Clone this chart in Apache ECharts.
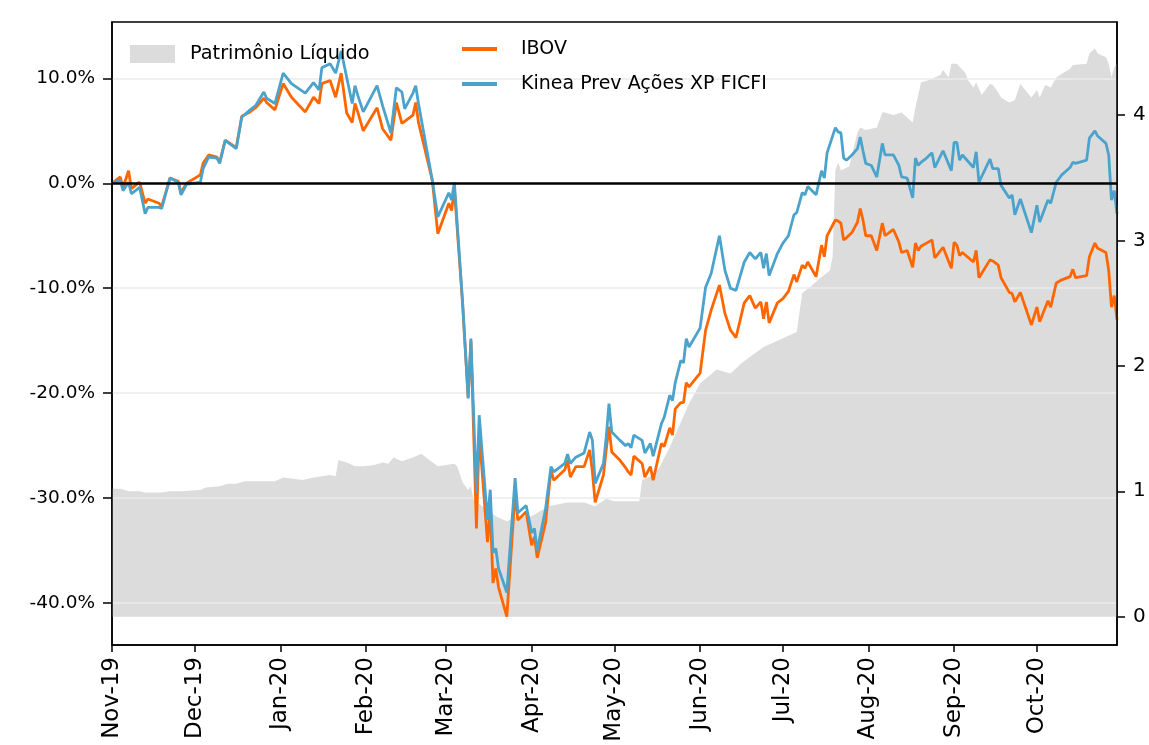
<!DOCTYPE html>
<html>
<head>
<meta charset="utf-8">
<script src="https://cdn.jsdelivr.net/npm/echarts@6/dist/echarts.min.js"></script>
<style>
html,body{margin:0;padding:0;background:#fff;}
#chart{width:1149px;height:745px;}
</style>
</head>
<body>
<div id="chart"></div>
<script>
// ---- data ----
const dates = ['2019-11-01','2019-11-04','2019-11-05','2019-11-07','2019-11-08','2019-11-11','2019-11-13','2019-11-14','2019-11-18','2019-11-19','2019-11-22','2019-11-25','2019-11-26','2019-11-28',
'2019-12-03','2019-12-04','2019-12-06','2019-12-09','2019-12-10','2019-12-12','2019-12-16','2019-12-18','2019-12-21','2019-12-23','2019-12-26','2019-12-27','2019-12-30',
'2020-01-02','2020-01-05','2020-01-10','2020-01-13','2020-01-15','2020-01-16','2020-01-19','2020-01-21','2020-01-23','2020-01-25','2020-01-27','2020-01-28','2020-01-29','2020-01-31',
'2020-02-05','2020-02-07','2020-02-10','2020-02-12','2020-02-14','2020-02-15','2020-02-18','2020-02-19','2020-02-20','2020-02-25','2020-02-27',
'2020-03-02','2020-03-03','2020-03-04','2020-03-07','2020-03-09','2020-03-10','2020-03-12','2020-03-13','2020-03-16','2020-03-17','2020-03-18','2020-03-19','2020-03-20','2020-03-23','2020-03-26','2020-03-27','2020-03-30',
'2020-04-01','2020-04-02','2020-04-03','2020-04-06','2020-04-08','2020-04-09','2020-04-13','2020-04-14','2020-04-15','2020-04-17','2020-04-20','2020-04-22','2020-04-23','2020-04-24','2020-04-27','2020-04-28','2020-04-29','2020-04-30',
'2020-05-03','2020-05-05','2020-05-06','2020-05-07','2020-05-08','2020-05-11','2020-05-12','2020-05-14','2020-05-15','2020-05-18','2020-05-19','2020-05-21','2020-05-22','2020-05-23','2020-05-25','2020-05-26','2020-05-27','2020-05-28',
'2020-06-01','2020-06-03','2020-06-05','2020-06-08','2020-06-10','2020-06-12','2020-06-14','2020-06-17','2020-06-19','2020-06-21','2020-06-23','2020-06-24','2020-06-25','2020-06-26','2020-06-29',
'2020-07-01','2020-07-03','2020-07-05','2020-07-06','2020-07-08','2020-07-09','2020-07-10','2020-07-13','2020-07-15','2020-07-16','2020-07-17','2020-07-20','2020-07-21','2020-07-22','2020-07-23','2020-07-24','2020-07-26','2020-07-28','2020-07-29','2020-07-30','2020-07-31',
'2020-08-02','2020-08-04','2020-08-06','2020-08-07','2020-08-10','2020-08-12','2020-08-13','2020-08-15','2020-08-17','2020-08-18','2020-08-19','2020-08-20','2020-08-22','2020-08-24','2020-08-25','2020-08-28','2020-08-31',
'2020-09-01','2020-09-02','2020-09-03','2020-09-04','2020-09-08','2020-09-09','2020-09-10','2020-09-14','2020-09-15','2020-09-17','2020-09-18','2020-09-21','2020-09-22','2020-09-23','2020-09-25','2020-09-29',
'2020-10-01','2020-10-02','2020-10-05','2020-10-06','2020-10-08','2020-10-10','2020-10-13','2020-10-14','2020-10-15','2020-10-19','2020-10-20','2020-10-22','2020-10-23','2020-10-26','2020-10-27','2020-10-28','2020-10-29','2020-10-30'];

const kinea = [0,0.3,-0.7,0.1,-1.0,-0.4,-2.9,-2.3,-2.3,-2.4,0.5,0.1,-1.1,-0.1,
0.1,1.4,2.5,2.4,1.9,4.1,3.3,6.3,7.0,7.4,8.7,8.1,7.6,
10.5,9.5,8.6,9.6,8.9,11.0,11.4,10.5,12.6,10.1,7.6,9.3,8.4,6.8,
9.3,7.4,4.8,9.1,8.7,7.1,8.6,9.3,7.6,0.3,-3.2,
-0.9,-1.6,0.1,-11.4,-20.5,-14.8,-29.5,-22.1,-32.1,-29.2,-35.2,-34.8,-36.7,-39.0,-28.1,-31.4,-30.7,
-33.3,-32.9,-35.0,-31.1,-27.0,-27.5,-26.7,-25.8,-26.7,-26.1,-25.7,-23.7,-24.5,-28.6,-26.7,-24.2,-21.0,-23.7,
-24.5,-25.0,-24.8,-25.2,-24.0,-24.5,-25.7,-24.8,-26.0,-22.9,-22.3,-20.2,-20.7,-19.0,-16.9,-17.1,-14.8,-15.6,
-13.8,-9.9,-8.6,-5.0,-8.3,-10.0,-10.2,-7.5,-6.6,-7.2,-6.6,-8.1,-6.7,-8.8,-6.7,
-5.7,-5.0,-3.0,-2.8,-0.9,-1.1,-0.3,-1.1,1.2,0.5,2.9,5.3,4.9,4.8,2.4,2.2,2.7,3.3,4.4,3.1,1.9,
1.7,0.6,3.8,2.7,2.7,1.7,0.6,0.5,-1.4,2.4,1.7,2.0,2.4,2.9,1.5,3.1,1.2,
3.9,3.9,2.2,2.7,1.5,3.0,0.1,2.3,1.4,1.4,-0.2,-1.4,-1.1,-3.0,-1.5,-4.7,
-2.1,-3.7,-1.6,-1.9,0.1,0.8,1.5,2.0,1.9,2.2,4.3,5.0,4.5,3.8,2.7,-1.6,-0.7,-2.9];

const ibov = [0,0.6,-0.4,1.2,-0.5,0.1,-1.9,-1.5,-1.9,-2.2,0.5,0.2,-0.9,0.0,
0.8,1.9,2.7,2.5,2.0,4.1,3.4,6.4,6.8,7.2,8.1,7.7,7.0,
9.5,8.2,6.8,8.2,7.6,9.5,9.8,8.2,10.5,6.7,5.8,7.6,6.8,5.0,
7.2,5.2,4.1,7.7,5.7,5.9,6.5,7.7,5.8,0.3,-4.8,
-1.9,-2.6,-0.5,-11.6,-20.4,-15.0,-32.9,-23.8,-34.2,-31.1,-38.1,-36.7,-38.5,-41.3,-29.5,-32.1,-31.3,
-34.5,-33.7,-35.7,-32.4,-27.3,-28.3,-27.3,-26.4,-28.0,-27.0,-27.0,-25.4,-27.5,-30.4,-27.8,-25.4,-23.2,-25.6,
-26.4,-27.1,-27.5,-27.8,-26.0,-26.7,-28.0,-27.0,-28.3,-24.8,-25.1,-23.3,-24.0,-21.5,-20.9,-20.9,-19.0,-19.4,
-18.1,-14.0,-12.1,-9.7,-12.4,-14.0,-14.7,-11.4,-10.7,-11.9,-11.3,-12.9,-11.3,-13.3,-11.4,
-11.0,-10.3,-8.7,-9.4,-7.8,-8.1,-7.5,-8.9,-5.9,-7.0,-5.0,-3.5,-3.6,-3.8,-5.4,-5.2,-4.7,-3.7,-2.4,-3.5,-5.0,
-5.0,-6.4,-3.8,-5.0,-4.4,-5.6,-6.6,-6.4,-8.0,-5.7,-6.4,-6.0,-5.7,-5.4,-7.1,-6.1,-8.1,
-5.6,-5.9,-6.9,-6.6,-7.5,-6.4,-9.0,-7.3,-7.4,-7.8,-9.0,-10.4,-10.5,-11.3,-10.4,-13.5,
-11.8,-13.2,-11.2,-11.8,-9.5,-9.2,-8.9,-8.2,-9.0,-8.8,-7.0,-5.7,-6.2,-6.6,-8.3,-11.8,-10.7,-13.0];

const plDates = ['2019-11-01','2019-11-04','2019-11-07','2019-11-11','2019-11-13','2019-11-19','2019-11-22','2019-11-26','2019-12-03','2019-12-05','2019-12-10','2019-12-13','2019-12-16','2019-12-19','2019-12-25','2019-12-30',
'2020-01-02','2020-01-09','2020-01-13','2020-01-16','2020-01-19','2020-01-21','2020-01-22','2020-01-25','2020-01-28','2020-01-31',
'2020-02-04','2020-02-07','2020-02-09','2020-02-11','2020-02-14','2020-02-18','2020-02-21','2020-02-27',
'2020-03-01','2020-03-04','2020-03-05','2020-03-07','2020-03-09','2020-03-10','2020-03-11','2020-03-19','2020-03-23','2020-03-27',
'2020-04-01','2020-04-07','2020-04-14','2020-04-20','2020-04-24','2020-04-28',
'2020-05-01','2020-05-06','2020-05-10','2020-05-11','2020-05-14','2020-05-17','2020-05-21','2020-05-25','2020-05-28',
'2020-06-01','2020-06-07','2020-06-12','2020-06-16','2020-06-19','2020-06-24','2020-06-30',
'2020-07-06','2020-07-08','2020-07-11','2020-07-14','2020-07-18','2020-07-19','2020-07-20','2020-07-21','2020-07-22','2020-07-25','2020-07-28','2020-07-29','2020-07-31',
'2020-08-04','2020-08-06','2020-08-07','2020-08-10','2020-08-13','2020-08-17','2020-08-18','2020-08-20','2020-08-23','2020-08-27','2020-08-28','2020-08-30','2020-08-31',
'2020-09-02','2020-09-04','2020-09-05','2020-09-06','2020-09-08','2020-09-09','2020-09-11','2020-09-14','2020-09-15','2020-09-17','2020-09-18','2020-09-21','2020-09-23','2020-09-25','2020-09-26','2020-09-29',
'2020-10-01','2020-10-02','2020-10-04','2020-10-06','2020-10-08','2020-10-10','2020-10-13','2020-10-14','2020-10-19','2020-10-20','2020-10-22','2020-10-23','2020-10-26','2020-10-27','2020-10-28','2020-10-29','2020-10-30'];

const pl = [1.02,1.02,1.00,1.00,0.99,0.99,1.00,1.00,1.01,1.03,1.04,1.06,1.06,1.08,1.08,1.08,
1.11,1.09,1.11,1.12,1.13,1.12,1.25,1.23,1.20,1.20,
1.21,1.23,1.22,1.27,1.24,1.27,1.30,1.20,
1.21,1.22,1.20,1.07,1.01,1.04,0.93,0.80,0.76,0.80,
0.80,0.88,0.91,0.91,0.88,0.94,
0.92,0.92,0.92,1.09,1.12,1.18,1.35,1.55,1.70,
1.86,1.97,1.94,2.02,2.07,2.15,2.21,
2.27,2.58,2.63,2.69,2.76,2.87,3.56,3.62,3.56,3.59,3.86,3.90,3.88,
3.90,4.02,4.02,4.00,4.02,3.94,4.06,4.26,4.28,4.32,4.36,4.30,4.41,
4.41,4.36,4.34,4.28,4.22,4.26,4.16,4.25,4.24,4.18,4.14,4.10,4.12,4.25,4.22,4.14,
4.20,4.14,4.24,4.22,4.30,4.33,4.37,4.40,4.41,4.49,4.53,4.49,4.46,4.41,4.30,4.38,4.41];

const leftTicks = [-40,-30,-20,-10,0,10];
const gridTicks = [-40,-30,-20,-10,10];
const rightTicks = [0,1,2,3,4];
const monthNames = ['Jan','Feb','Mar','Apr','May','Jun','Jul','Aug','Sep','Oct','Nov','Dec'];

// ---- helpers ----
const ts = s => { const p = s.split('-').map(Number); return new Date(p[0], p[1] - 1, p[2]).getTime(); };
const monthTicks = [];
for (let i = 0; i < 12; i++) monthTicks.push(new Date(2019, 10 + i, 1).getTime());
const zip = (a, b) => a.map((d, i) => [ts(d), b[i]]);

const FONT = 'DejaVu Sans';
const chart = echarts.init(document.getElementById('chart'), null, {renderer: 'canvas'});

chart.setOption({
  animation: false,
  backgroundColor: '#ffffff',
  textStyle: {fontFamily: FONT},
  grid: {left: 112, right: 32, top: 22, bottom: 100, show: true, borderColor: '#000', borderWidth: 1.5, backgroundColor: 'transparent'},
  legend: [
    {
      left: 130, top: 43, padding: 0, itemWidth: 45, itemHeight: 18,
      data: [{name: 'Patrimônio Líquido', icon: 'rect', itemStyle: {color: '#DCDCDC'}}],
      textStyle: {fontFamily: FONT, fontSize: 19.3, color: '#000', lineHeight: 22, padding: [0, 0, 0, 10]},
      selectedMode: false
    },
    {
      left: 462, top: 38, padding: 0, orient: 'vertical', itemWidth: 35, itemHeight: 4, itemGap: 13,
      data: [{name: 'IBOV', icon: 'rect'}, {name: 'Kinea Prev Ações XP FICFI', icon: 'rect'}],
      textStyle: {fontFamily: FONT, fontSize: 19, color: '#000', lineHeight: 22, padding: [0, 0, 0, 19]},
      selectedMode: false
    }
  ],
  xAxis: {
    type: 'value',
    min: ts('2019-11-01'),
    max: ts('2020-10-30'),
    z: 3,
    axisLine: {show: true, onZero: false, lineStyle: {color: '#000', width: 1.5}},
    axisTick: {show: true, length: 7, customValues: monthTicks, lineStyle: {color: '#000', width: 1.5}},
    axisLabel: {
      customValues: monthTicks, rotate: 90, margin: 12, fontSize: 23, color: '#000', fontFamily: FONT,
      formatter: v => { const d = new Date(v); return monthNames[d.getMonth()] + '-' + String(d.getFullYear()).slice(2); }
    },
    splitLine: {show: false}
  },
  yAxis: [
    {
      type: 'value', min: -44, max: 15.37, position: 'left', z: 3,
      axisLine: {show: true, onZero: false, lineStyle: {color: '#000', width: 1.5}},
      axisTick: {show: true, length: 9, customValues: leftTicks, lineStyle: {color: '#000', width: 1.5}},
      axisLabel: {customValues: leftTicks, margin: 17, fontSize: 18.5, color: '#000', fontFamily: FONT, formatter: v => v.toFixed(1) + '%'},
      splitLine: {show: false}
    },
    {
      type: 'value', min: -0.226, max: 4.742, position: 'right', z: 3,
      axisLine: {show: true, onZero: false, lineStyle: {color: '#000', width: 1.5}},
      axisTick: {show: true, length: 8, customValues: rightTicks, lineStyle: {color: '#000', width: 1.5}},
      axisLabel: {customValues: rightTicks, margin: 16, fontSize: 20, color: '#000', fontFamily: FONT, formatter: v => String(v)},
      splitLine: {show: false}
    }
  ],
  series: [
    {
      name: 'Patrimônio Líquido', type: 'line', yAxisIndex: 1, z: 1,
      data: zip(plDates, pl), showSymbol: false, symbol: 'none',
      lineStyle: {width: 0, color: '#DCDCDC'}, itemStyle: {color: '#DCDCDC'},
      areaStyle: {color: '#DCDCDC', opacity: 1}
    },
    {
      name: 'IBOV', type: 'line', yAxisIndex: 0, z: 2,
      data: zip(dates, ibov), showSymbol: false, symbol: 'none',
      lineStyle: {width: 2.8, color: '#FF6600'}, itemStyle: {color: '#FF6600'},
      markLine: {
        z: 1.5, silent: true, symbol: 'none', label: {show: false},
        lineStyle: {color: '#EBEBEB', width: 1.5, type: 'solid'},
        data: gridTicks.map(v => ({yAxis: v}))
      }
    },
    {
      name: 'Kinea Prev Ações XP FICFI', type: 'line', yAxisIndex: 0, z: 2,
      data: zip(dates, kinea), showSymbol: false, symbol: 'none',
      lineStyle: {width: 2.8, color: '#4BA3CB'}, itemStyle: {color: '#4BA3CB'},
      markLine: {
        z: 4, silent: true, symbol: 'none', label: {show: false},
        lineStyle: {color: '#000', width: 2.5, type: 'solid'},
        data: [{yAxis: 0}]
      }
    }
  ]
});
</script>
</body>
</html>
